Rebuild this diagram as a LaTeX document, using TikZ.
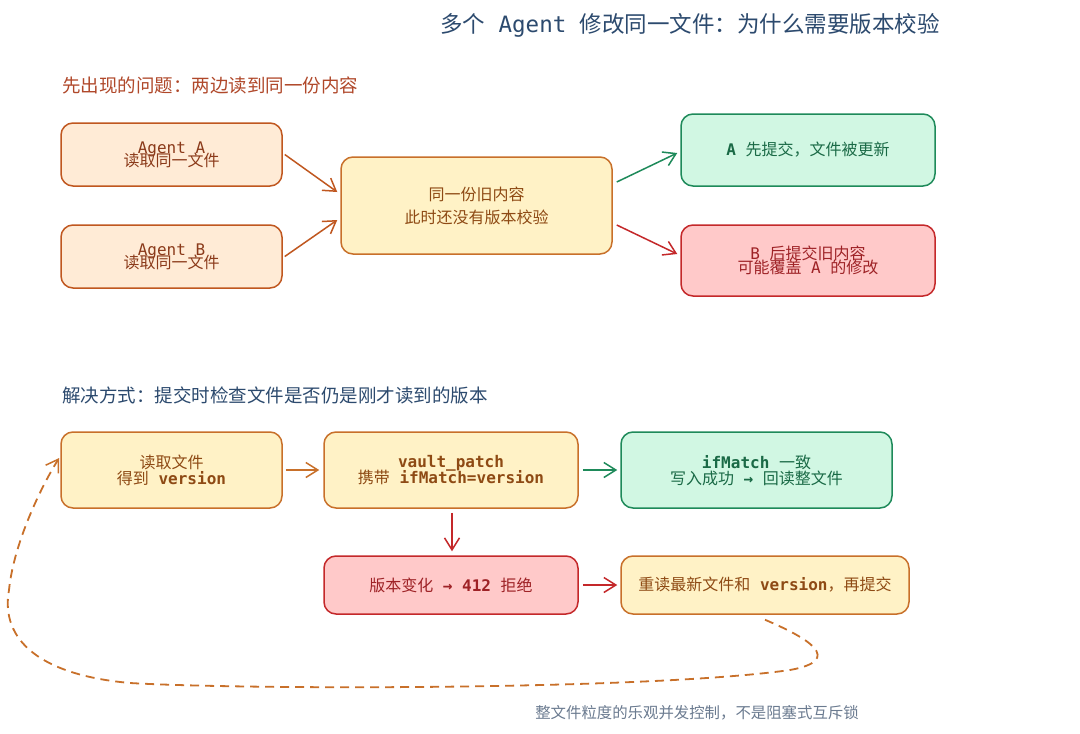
\documentclass[tikz,border=0pt]{standalone}
\usepackage{fontspec}
\setmainfont{Noto Sans CJK SC}
\setmonofont{DejaVu Sans Mono}
\newfontfamily\mono{DejaVu Sans Mono}
\usetikzlibrary{arrows.meta,calc}
\definecolor{titleblue}{HTML}{2C4A6E}
\definecolor{hdrred}{HTML}{B0482A}
\definecolor{footgray}{HTML}{6B7B90}
\definecolor{peachfill}{HTML}{FFEBD6}
\definecolor{peachdraw}{HTML}{C0571F}
\definecolor{peachtext}{HTML}{8B3A1A}
\definecolor{yelfill}{HTML}{FFF2C6}
\definecolor{yeldraw}{HTML}{C8702A}
\definecolor{yeltext}{HTML}{8E4A14}
\definecolor{grnfill}{HTML}{D1F7E3}
\definecolor{grndraw}{HTML}{1E8A5A}
\definecolor{grntext}{HTML}{1A6A46}
\definecolor{redfill}{HTML}{FFC9C9}
\definecolor{reddraw}{HTML}{C4282A}
\definecolor{redtext}{HTML}{9E2226}
\newcommand{\tightlines}[1]{\fontsize{16}{#1}\selectfont\lineskiplimit=-30pt\lineskip=0pt}
\tikzset{
  box/.style={rounded corners=12pt, line width=1.5pt, align=center, inner sep=2pt,
    font=\tightlines{15}},
  peachbox/.style={box, fill=peachfill, draw=peachdraw, text=peachtext},
  yelbox/.style={box, fill=yelfill, draw=yeldraw, text=yeltext},
  grnbox/.style={box, fill=grnfill, draw=grndraw, text=grntext},
  redbox/.style={box, fill=redfill, draw=reddraw, text=redtext},
  conn/.style={line width=1.5pt, -{Straight Barb[length=12pt,width=15pt,line width=1.5pt]}},
}
\begin{document}
\begin{tikzpicture}[x=1pt,y=-1pt]
\useasboundingbox[fill=white] (0,0) rectangle (1080,734);

% titles
\node[text=titleblue, font=\fontsize{22.5}{22.5}\selectfont] (title) at (690,25) {多个{\mono\ Agent\ }修改同一文件：为什么需要版本校验};
\node[text=hdrred, font=\fontsize{18.5}{18.5}\selectfont, anchor=west, inner sep=0pt] (h1) at (62,85) {先出现的问题：两边读到同一份内容};
\node[text=titleblue, font=\fontsize{18.5}{18.5}\selectfont, anchor=west, inner sep=0pt] (h2) at (62,395) {解决方式：提交时检查文件是否仍是刚才读到的版本};
\node[text=footgray, font=\fontsize{15.4}{15.4}\selectfont] (foot) at (697,713) {整文件粒度的乐观并发控制，不是阻塞式互斥锁};

% top section
\node[peachbox, minimum width=221pt, minimum height=63pt, font=\tightlines{13}] (A) at (171.5,154.5) {{\mono Agent A}\\读取同一文件};
\node[peachbox, minimum width=221pt, minimum height=63pt, font=\tightlines{13}] (B) at (171.5,256.5) {{\mono Agent B}\\读取同一文件};
\node[yelbox, minimum width=271pt, minimum height=97pt, font=\tightlines{23}] (C) at (476.5,205.5) {同一份旧内容\\此时还没有版本校验};
\node[grnbox, minimum width=254pt, minimum height=72pt] (G) at (808,150) {{\mono\bfseries A\ }先提交，文件被更新};
\node[redbox, minimum width=254pt, minimum height=71pt, font=\tightlines{13.5}] (R) at (808,260.5) {{\mono B\ }后提交旧内容\\可能覆盖{\mono\ A\ }的修改};

\draw[conn, draw=peachdraw] ([xshift=2pt]A.east) -- ([xshift=-3pt,yshift=13.5pt]C.west);
\draw[conn, draw=peachdraw] ([xshift=2pt]B.east) -- ([xshift=-3pt,yshift=-14.5pt]C.west);
\draw[conn, draw=grndraw] ([xshift=4pt,yshift=23.5pt]C.east) -- ([xshift=-3pt,yshift=-3pt]G.west);
\draw[conn, draw=reddraw] ([xshift=4pt,yshift=-19.5pt]C.east) -- ([xshift=-3pt,yshift=6.5pt]R.west);

% bottom section
\node[yelbox, minimum width=221pt, minimum height=76pt, font=\tightlines{16}] (read) at (171.5,470) {读取文件\\得到{\mono\bfseries\ version}};
\node[yelbox, minimum width=254pt, minimum height=76pt, font=\tightlines{16}] (vault) at (451,470) {{\mono\bfseries vault\_patch}\\携带{\mono\bfseries\ ifMatch=version}};
\node[grnbox, minimum width=271pt, minimum height=76pt, font=\tightlines{16}] (ok) at (756.5,470) {{\mono\bfseries ifMatch\ }一致\\写入成功{\mono\bfseries\ →\ }回读整文件};
\node[redbox, minimum width=254pt, minimum height=58pt] (rej) at (451,585) {版本变化{\mono\bfseries\ →\ 412\ }拒绝};
\node[yelbox, minimum width=288pt, minimum height=58pt] (retry) at (765,585) {重读最新文件和{\mono\bfseries\ version}，再提交};

\draw[conn, draw=yeldraw] ([xshift=3pt]read.east) -- ([xshift=-4pt]vault.west);
\draw[conn, draw=grndraw] ([xshift=4pt]vault.east) -- ([xshift=-3pt]ok.west);
\draw[conn, draw=reddraw] ([xshift=1pt,yshift=-4pt]vault.south) -- ([xshift=1pt,yshift=4pt]rej.north);
\draw[conn, draw=reddraw] ([xshift=4pt]rej.east) -- ([xshift=-3pt]retry.west);

\coordinate (loopend) at ([xshift=-1pt,yshift=12pt]read.west);
\draw[line width=1.8pt, draw=yeldraw, dash pattern=on 9pt off 6pt,
      -{Straight Barb[length=12pt,width=15pt,line width=1.5pt]}]
  ([yshift=-5pt]retry.south)
  .. controls (808,638) and (845,660) .. (790,670)
  .. controls (650,690) and (250,690) .. (130,683)
  .. controls (40,675) and (0,640) .. (9,590)
  .. controls (14,540) and (45,480) .. (loopend);
\end{tikzpicture}
\end{document}
